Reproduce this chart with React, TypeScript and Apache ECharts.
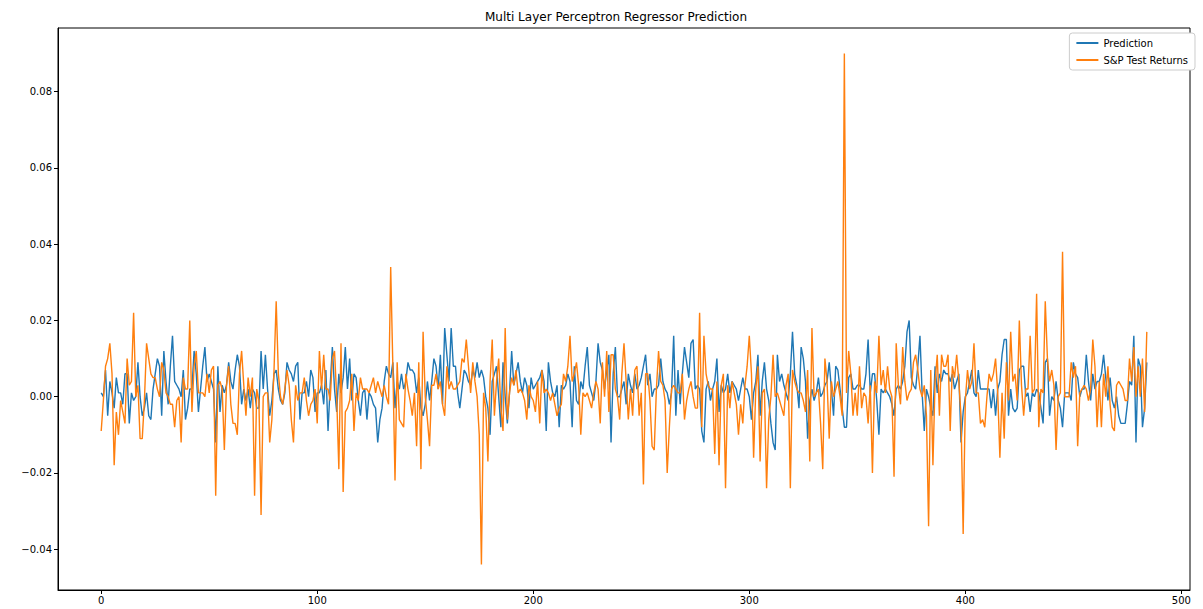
import React, { useEffect, useRef } from 'react';
import * as echarts from 'echarts';

const chartTitle = 'Multi Layer Perceptron Regressor Prediction';
const seriesNames = ['Prediction', 'S&P Test Returns'];
const xTicks = [0, 100, 200, 300, 400, 500];
const yTicks = [-0.04, -0.02, 0, 0.02, 0.04, 0.06, 0.08];

// Daily values in thousandths (0.001 units), one per test day 0..484
const predictionMilli = [
  1, 0, 7, -5, 4, 1, -3, 5, 1, 1, -2, 6, 6, -7, 1, -1, 0, 9, 0, -5,
  -3, 1, -5, -6, 2, 6, 10, 8, -5, 12, 4, -2, 8, 16, 4, 3, 2, 0, 7, -6,
  -3, 2,
  2, 12, 6, -4, 2, 8, 13, 4, 6, 4, 2, -12, 8, -4, 3, 1, 3, 9, 4, 2,
  7, 11, 8, -2, 2, -1, 2, -3, 2, 1, -3, -3, 12, 2, 11, 2, -5, -1, 6, 7,
  2, -1, -2, 1, 9,
  7, 6, 4, 8, 9, -6, 1, 1, 4, 0, 7, 5, -4, 1, 1, 3, -2, 7, -9, 3,
  13, 2, -4, 6, 1, 5, 13, 2, 10, -1, 6, 5, -1, -5, 1, 2, -6, 1, 0, -2,
  -3, -12, -6, -3,
  4, 8, 6, 5, 9, -3, 4, 2, 6, 2, 4, 9, 7, 7, 6, 1, 5, -3, -5, -2,
  4, -1, 4, 10, 8, 2, 11, -2, 18, 11, 4, 18, 8, 8, 1, -3, 2, 7, 6, 4,
  3, 7, 5, 9, 5,
  7, 5, 0, -3, -10, 4, 6, 8, 0, -8, 9, 0, -7, 1, 12, 3, 6, 9, 4, 1,
  5, 3, -3, 5, 2, 3, 4, 5, 7, 4, -9, 9, 4, 1, 0, 3, -8, 3, 2, 3,
  6, 4, -8, 8,
  -1, -2, 4, 2, 8, 13, 3, 1, -1, 4, 14, 9, 7, 2, 7, 11, -12, 6, 13, 0,
  0, 2, 4, -2, 6, 3, 1, 6, 2, 3, 5, 8, 11, 3, 6, 0, 2, 2, 3, 10,
  4, 2, 1, -2,
  1, 16, -5, 7, -2, 6, 13, 9, 5, 14, 15, 2, 3, 2, -9, -12, 2, 4, -1, 2,
  4, 10, -4, 3, 1, 2, 6, 1, 4, 3, 2, -1, 2, 5, 2, 2, 0, -6, 1, 4,
  11, -5, 4, 9, 2,
  -1, -7, -12, -14, 11, 4, 6, 3, 1, -1, 6, 17, 6, 3, -3, 13, 10, 4, -11, -1,
  2, -1, 1, 5, 0, 1, 3, 4, 9, 2, -5, 8, 7, 2, -3, -8, -8, 5, 6, 2,
  2, 3, 3, 2,
  2, 6, 15, 1, 6, 6, -1, -10, 2, 1, 2, 1, 0, -2, -5, 2, 3, 2, 4, 8,
  17, 20, 5, 3, 2, 8, 16, 1, -9, 2, 0, -3, -5, 8, 1, 6, 4, 7, 6, 6,
  4, 6, 2, 4, 6,
  -12, -4, 0, 1, 4, 7, 1, 0, 7, 2, 2, 2, 2, 2, -3, 2, -5, 2, 4, 11,
  15, 15, -5, 2, -3, -4, -3, 7, 8, 8, 0, 1, -4, 1, 0, 2, 1, -3, -7, 9,
  10, -5, 0, -1,
  4, -1, -3, -8, 1, 1, 1, -1, 9, 6, 5, 0, 2, 2, 11, 4, -1, 6, 2, 4,
  4, 6, 11, 5, -1, 5, -1, -3, 0, -5, -7, -7, -7, -2, 4, 3, 16, -12, 10, 8,
  -8, -3, 9,
];

const returnsMilli = [
  -9, -1, 8, 10, 14, 6, -18, -4, -10, -1, -4, -7, 10, 3, 4, 22, 0, 3, -11, -11,
  -1, 14, 10, 6, 5, 5, 2, 0, 9, 7, 1, 0, -2, -2, -8, -1, 0, -12, 5, 2,
  2, 20,
  -4, 8, 12, 1, 1, 1, 0, 6, 1, 7, 8, -26, 3, 4, 2, -14, 3, 8, -2, -7,
  -7, -10, 6, 12, 3, -5, 5, 0, 5, -26, 2, -1, -31, 0, 1, 1, -12, -6, 7, 25,
  6, 0, -2, 2, 7,
  3, -6, -12, 3, -1, 1, 1, 5, -1, -5, -2, -1, 2, -7, 12, 2, 11, 2, 2, -1,
  10, 12, 0, -19, 14, -25, -4, -3, -1, 6, -9, 1, -1, 5, 2, 2, 2, 1, 3, 5,
  1, 4, 2, 0,
  3, 0, -2, 34, 8, -22, 9, -6, -7, -8, 6, 2, -1, -5, 1, -13, 9, -19, 17, 0,
  -6, -13, 3, 3, 6, 2, 4, -2, -5, 8, 2, 4, 2, 2, 3, 4, 10, 9, 15, 8,
  1, 9, 4, 0, -10,
  -44, 1, -3, -17, 4, 15, -5, 4, 10, -3, -9, 18, -6, 1, 5, 3, 7, 1, 2, 1,
  -1, -6, 3, 0, -1, -4, 4, -7, 7, 1, 2, 1, -1, 1, -2, -5, -3, -2, 6, 4,
  8, 16, 4, 6,
  9, 3, -10, 1, 0, 1, -1, -3, 1, 4, 2, -7, 9, 0, 12, -4, 11, 11, 2, 0,
  -6, 6, 14, 4, -6, 2, -5, 7, 8, -5, 1, -23, 6, 6, -1, -13, -14, 2, 12, 4,
  3, -1, -20, -8,
  2, 3, 2, 1, 1, 6, -6, -1, 2, 4, 0, -3, -3, 22, -8, 16, 6, 3, 2, 2,
  -15, 4, -18, 3, 6, -24, 3, -3, 4, 1, -2, -10, -2, -7, 3, 8, 16, 6, -16, 2,
  8, -17, 1, 2, -24,
  -6, 0, 11, 0, 1, -1, -3, -5, 3, 6, -24, 7, 4, 2, 1, 1, -1, -4, 7, -17,
  18, 0, 1, 2, -7, -19, 10, 4, -11, 4, 0, 2, 4, 0, -5, 90, 1, 12, 6, -5,
  1, -5, 8, -3,
  1, 0, -7, 3, -20, 4, 1, 16, 3, 7, 1, 8, 2, 0, -21, 14, 3, -2, 13, 4,
  -1, 1, 2, 9, 11, 7, 2, 0, 3, -5, -34, 7, -18, 4, 11, -5, 11, 8, 8, 11,
  -9, 8, 5, 11, 4,
  -5, -36, -1, 7, 2, 4, 14, 1, 1, -7, -6, -8, 0, 6, 4, 6, 10, 1, -16, 1,
  -11, 9, -1, 17, 4, 6, -1, 20, 3, -5, 2, 2, 16, 1, 2, 27, -8, 2, 1, 25,
  10, 4, 7, 3,
  -14, 0, 1, 38, 0, 0, 0, 9, 5, 8, -13, 1, 2, 3, 2, -1, 2, 15, 8, -8,
  4, -8, 6, 0, 8, -2, -8, -9, 3, 4, 3, 2, -1, -1, 10, 4, 13, 0, 8, 0,
  10, -4, 17,
];

const seriesColors = ['#1f77b4', '#ff7f0e'];

const fmtY = (v: number) => (v < 0 ? '\u2212' : '') + Math.abs(v).toFixed(2);

export default function App() {
  const ref = useRef<HTMLDivElement>(null);

  useEffect(() => {
    if (!ref.current) return;
    const chart = echarts.init(ref.current, null, { renderer: 'svg' });
    const toPoints = (arr: number[]) => arr.map((v, i) => [i, v / 1000]);

    chart.setOption({
      animation: false,
      backgroundColor: '#ffffff',
      textStyle: { fontFamily: 'DejaVu Sans' },
      title: {
        text: chartTitle,
        left: 611,
        top: 6,
        textAlign: 'center',
        textStyle: { fontSize: 12, fontWeight: 'normal', color: '#000', fontFamily: 'DejaVu Sans' },
      },
      legend: {
        data: seriesNames,
        orient: 'vertical',
        right: 8,
        top: 33,
        icon: 'rect',
        itemWidth: 22,
        itemHeight: 2,
        itemGap: 7,
        padding: [5, 7, 5, 7],
        borderColor: '#cccccc',
        borderWidth: 1,
        borderRadius: 3,
        backgroundColor: '#ffffff',
        textStyle: { fontSize: 10, color: '#000', fontFamily: 'DejaVu Sans' },
      },
      grid: {
        left: 58,
        right: 13,
        top: 28,
        bottom: 19,
        show: true,
        borderColor: '#000',
        borderWidth: 1,
        backgroundColor: 'transparent',
      },
      xAxis: {
        type: 'value',
        min: -20,
        max: 504,
        splitLine: { show: false },
        axisLine: { show: true, onZero: false, lineStyle: { color: '#000', width: 1 } },
        axisTick: { show: true, customValues: xTicks, length: 4, lineStyle: { color: '#000' } },
        axisLabel: { customValues: xTicks, color: '#000', fontSize: 10, margin: 5 },
      },
      yAxis: {
        type: 'value',
        min: -0.0507,
        max: 0.0967,
        splitLine: { show: false },
        axisLine: { show: true, onZero: false, lineStyle: { color: '#000', width: 1 } },
        axisTick: { show: true, customValues: yTicks, length: 4, lineStyle: { color: '#000' } },
        axisLabel: { customValues: yTicks, color: '#000', fontSize: 10, margin: 6, formatter: fmtY },
      },
      series: [
        {
          name: seriesNames[0],
          type: 'line',
          data: toPoints(predictionMilli),
          symbol: 'none',
          color: seriesColors[0],
          lineStyle: { width: 1.4, color: seriesColors[0] },
          emphasis: { disabled: true },
        },
        {
          name: seriesNames[1],
          type: 'line',
          data: toPoints(returnsMilli),
          symbol: 'none',
          color: seriesColors[1],
          lineStyle: { width: 1.4, color: seriesColors[1] },
          emphasis: { disabled: true },
        },
      ],
    });

    return () => chart.dispose();
  }, []);

  return <div ref={ref} style={{ position: 'absolute', left: 0, top: 0, width: 1203, height: 609 }} />;
}
